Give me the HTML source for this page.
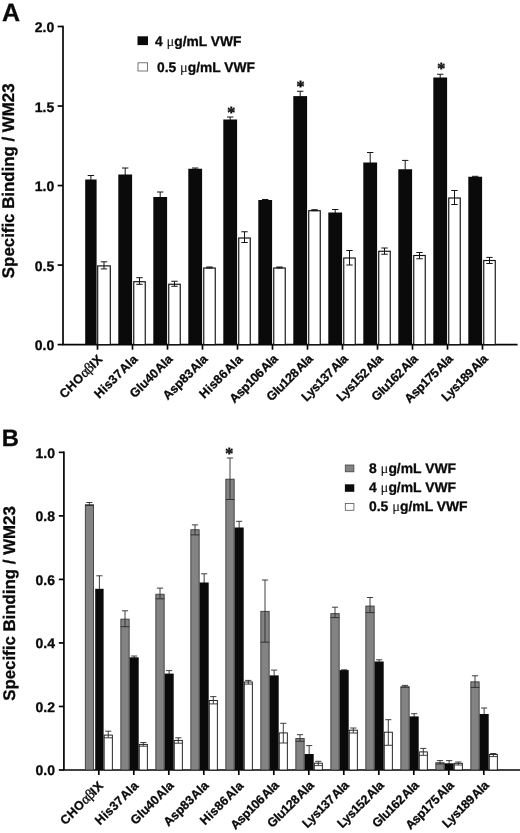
<!DOCTYPE html>
<html><head><meta charset="utf-8"><title>Figure</title>
<style>
html,body{margin:0;padding:0;background:#fff;}
svg{display:block;will-change:transform;filter:blur(0.4px);}
text{font-family:"Liberation Sans",sans-serif;font-weight:bold;fill:#0a0a0a;text-rendering:geometricPrecision;stroke:#0a0a0a;stroke-width:0.3;}
.sym{font-family:"Liberation Serif",serif;font-weight:normal;stroke:none;}
.ax{stroke:#050505;stroke-width:1.7;fill:none;}
.eb{stroke:#151515;stroke-width:1.0;fill:none;}
.ebb{stroke:#2a2a2a;stroke-width:0.9;fill:none;}
.kb{fill:#0a0a0a;}
.wb{fill:#fff;stroke:#111;stroke-width:1.15;}
.wbb{fill:#fff;stroke:#1c1c1c;stroke-width:0.95;}
.gb{fill:#838383;stroke:#3a3a3a;stroke-width:0.9;}
.ast{font-family:"Liberation Serif",serif;font-weight:bold;font-size:17px;stroke:#0a0a0a;stroke-width:0.3;}
.tk{font-size:14px;}
.xl{font-size:12.5px;}
.lg{font-size:13.8px;}.lgb{font-size:13.9px;}
</style></head><body>
<svg width="520" height="833" viewBox="0 0 520 833">
<rect width="520" height="833" fill="#fff"/>

<!-- Panel A -->
<text x="2.0" y="20.5" font-size="25">A</text>
<path class="ax" d="M63.0 25.75V344.60H517.6"/>
<path class="ax" d="M57.6 344.60H63.0"/>
<text class="tk" text-anchor="end" x="54.2" y="350.20">0.0</text>
<path class="ax" d="M57.6 265.08H63.0"/>
<text class="tk" text-anchor="end" x="54.2" y="270.68">0.5</text>
<path class="ax" d="M57.6 185.55H63.0"/>
<text class="tk" text-anchor="end" x="54.2" y="191.15">1.0</text>
<path class="ax" d="M57.6 106.03H63.0"/>
<text class="tk" text-anchor="end" x="54.2" y="111.62">1.5</text>
<path class="ax" d="M57.6 26.50H63.0"/>
<text class="tk" text-anchor="end" x="54.2" y="32.10">2.0</text>
<text font-size="16.85" text-anchor="middle" transform="translate(13.9 180.8) rotate(-90)">Specific Binding / WM23</text>
<path class="ax" d="M97.50 344.60V349.70"/>
<path class="eb" d="M90.90 175.50V180.50M87.70 175.50H94.10"/>
<rect class="kb" x="85.20" y="179.50" width="11.40" height="165.10"/>
<rect class="wb" x="97.70" y="265.90" width="12.60" height="78.70"/>
<path class="eb" d="M104.00 261.80V268.90M100.80 261.80H107.20M100.80 268.90H107.20"/>
<text class="xl" text-anchor="end" letter-spacing="0.45" transform="translate(103.50 359.80) rotate(-45)">CHO<tspan class="sym" style="font-size:14.2px;letter-spacing:-0.6px;stroke:#0a0a0a;stroke-width:0.3px">αβ</tspan>IX</text>
<path class="ax" d="M132.50 344.60V349.70"/>
<path class="eb" d="M125.20 168.00V175.50M122.00 168.00H128.40"/>
<rect class="kb" x="118.30" y="174.50" width="13.80" height="170.10"/>
<rect class="wb" x="133.75" y="281.70" width="11.50" height="62.90"/>
<path class="eb" d="M139.50 277.70V284.30M136.30 277.70H142.70M136.30 284.30H142.70"/>
<text class="xl" text-anchor="end" letter-spacing="0.25" transform="translate(138.50 359.80) rotate(-45)">His37<tspan dx="0.6">Ala</tspan></text>
<path class="ax" d="M167.50 344.60V349.70"/>
<path class="eb" d="M160.20 192.00V198.00M157.00 192.00H163.40"/>
<rect class="kb" x="153.30" y="197.00" width="13.80" height="147.60"/>
<rect class="wb" x="168.75" y="284.25" width="11.50" height="60.35"/>
<path class="eb" d="M174.50 281.25V286.25M171.30 281.25H177.70M171.30 286.25H177.70"/>
<text class="xl" text-anchor="end" transform="translate(173.50 359.80) rotate(-45)">Glu40<tspan dx="0.6">Ala</tspan></text>
<path class="ax" d="M202.50 344.60V349.70"/>
<path class="eb" d="M195.20 168.00V169.75M192.00 168.00H198.40"/>
<rect class="kb" x="188.30" y="168.75" width="13.80" height="175.85"/>
<rect class="wb" x="203.75" y="268.00" width="11.50" height="76.60"/>
<path class="eb" d="M209.50 267.00V268.00M206.30 267.00H212.70M206.30 268.00H212.70"/>
<text class="xl" text-anchor="end" transform="translate(208.50 359.80) rotate(-45)">Asp83<tspan dx="0.6">Ala</tspan></text>
<path class="ax" d="M237.50 344.60V349.70"/>
<path class="eb" d="M230.20 117.00V120.50M227.00 117.00H233.40"/>
<rect class="kb" x="223.30" y="119.50" width="13.80" height="225.10"/>
<rect class="wb" x="238.75" y="238.00" width="11.50" height="106.60"/>
<path class="eb" d="M244.50 231.75V242.50M241.30 231.75H247.70M241.30 242.50H247.70"/>
<text class="xl" text-anchor="end" letter-spacing="0.25" transform="translate(243.50 359.80) rotate(-45)">His86<tspan dx="0.6">Ala</tspan></text>
<path class="ax" d="M272.50 344.60V349.70"/>
<path class="eb" d="M265.20 199.50V201.00M262.00 199.50H268.40"/>
<rect class="kb" x="258.30" y="200.00" width="13.80" height="144.60"/>
<rect class="wb" x="273.75" y="268.00" width="11.50" height="76.60"/>
<path class="eb" d="M279.50 267.00V268.00M276.30 267.00H282.70M276.30 268.00H282.70"/>
<text class="xl" text-anchor="end" letter-spacing="-0.35" transform="translate(278.50 359.80) rotate(-45)">Asp106<tspan dx="1.3">Ala</tspan></text>
<path class="ax" d="M307.50 344.60V349.70"/>
<path class="eb" d="M300.20 91.25V97.10M297.00 91.25H303.40"/>
<rect class="kb" x="293.30" y="96.10" width="13.80" height="248.50"/>
<rect class="wb" x="308.75" y="210.70" width="11.50" height="133.90"/>
<path class="eb" d="M314.50 209.70V210.70M311.30 209.70H317.70M311.30 210.70H317.70"/>
<text class="xl" text-anchor="end" letter-spacing="-0.35" transform="translate(313.50 359.80) rotate(-45)">Glu128<tspan dx="1.3">Ala</tspan></text>
<path class="ax" d="M342.50 344.60V349.70"/>
<path class="eb" d="M335.20 209.50V213.50M332.00 209.50H338.40"/>
<rect class="kb" x="328.30" y="212.50" width="13.80" height="132.10"/>
<rect class="wb" x="343.75" y="258.00" width="11.50" height="86.60"/>
<path class="eb" d="M349.50 250.50V265.00M346.30 250.50H352.70M346.30 265.00H352.70"/>
<text class="xl" text-anchor="end" letter-spacing="-0.35" transform="translate(348.50 359.80) rotate(-45)">Lys137<tspan dx="1.3">Ala</tspan></text>
<path class="ax" d="M377.50 344.60V349.70"/>
<path class="eb" d="M370.20 152.50V163.50M367.00 152.50H373.40"/>
<rect class="kb" x="363.30" y="162.50" width="13.80" height="182.10"/>
<rect class="wb" x="378.75" y="251.25" width="11.50" height="93.35"/>
<path class="eb" d="M384.50 248.00V254.25M381.30 248.00H387.70M381.30 254.25H387.70"/>
<text class="xl" text-anchor="end" letter-spacing="-0.35" transform="translate(383.50 359.80) rotate(-45)">Lys152<tspan dx="1.3">Ala</tspan></text>
<path class="ax" d="M412.50 344.60V349.70"/>
<path class="eb" d="M405.20 160.40V170.25M402.00 160.40H408.40"/>
<rect class="kb" x="398.30" y="169.25" width="13.80" height="175.35"/>
<rect class="wb" x="413.75" y="255.50" width="11.50" height="89.10"/>
<path class="eb" d="M419.50 252.50V258.75M416.30 252.50H422.70M416.30 258.75H422.70"/>
<text class="xl" text-anchor="end" letter-spacing="-0.35" transform="translate(418.50 359.80) rotate(-45)">Glu162<tspan dx="1.3">Ala</tspan></text>
<path class="ax" d="M447.50 344.60V349.70"/>
<path class="eb" d="M440.20 74.25V78.50M437.00 74.25H443.40"/>
<rect class="kb" x="433.30" y="77.50" width="13.80" height="267.10"/>
<rect class="wb" x="448.75" y="198.00" width="11.50" height="146.60"/>
<path class="eb" d="M454.50 190.50V204.50M451.30 190.50H457.70M451.30 204.50H457.70"/>
<text class="xl" text-anchor="end" letter-spacing="-0.35" transform="translate(453.50 359.80) rotate(-45)">Asp175<tspan dx="1.3">Ala</tspan></text>
<path class="ax" d="M482.50 344.60V349.70"/>
<path class="eb" d="M475.20 176.30V177.75M472.00 176.30H478.40"/>
<rect class="kb" x="468.30" y="176.75" width="13.80" height="167.85"/>
<rect class="wb" x="483.75" y="260.50" width="11.50" height="84.10"/>
<path class="eb" d="M489.50 257.40V263.50M486.30 257.40H492.70M486.30 263.50H492.70"/>
<text class="xl" text-anchor="end" letter-spacing="-0.35" transform="translate(488.50 359.80) rotate(-45)">Lys189<tspan dx="1.3">Ala</tspan></text>
<text class="ast" x="231.25" y="118.00" text-anchor="middle">*</text>
<text class="ast" x="300.60" y="92.35" text-anchor="middle">*</text>
<text class="ast" x="441.25" y="74.20" text-anchor="middle">*</text>
<rect x="137.5" y="36.3" width="10.5" height="8.8" fill="#0a0a0a"/>
<text class="lg" x="155" y="45.6">4 <tspan class="sym" font-size="14.5">μ</tspan>g/mL VWF</text>
<rect x="138" y="62.8" width="9.6" height="8.2" fill="#fff" stroke="#555" stroke-width="0.8"/>
<text class="lg" x="157" y="71.6">0.5 <tspan class="sym" font-size="14.5">μ</tspan>g/mL VWF</text>
<!-- Panel B -->
<text x="1.7" y="445.9" font-size="23.8">B</text>
<path class="ax" d="M63.9 451.60V770.00H520"/>
<path class="ax" d="M58.8 770.00H63.9"/>
<text class="tk" text-anchor="end" x="55.0" y="775.20">0.0</text>
<path class="ax" d="M58.8 706.47H63.9"/>
<text class="tk" text-anchor="end" x="55.0" y="711.67">0.2</text>
<path class="ax" d="M58.8 642.94H63.9"/>
<text class="tk" text-anchor="end" x="55.0" y="648.14">0.4</text>
<path class="ax" d="M58.8 579.41H63.9"/>
<text class="tk" text-anchor="end" x="55.0" y="584.61">0.6</text>
<path class="ax" d="M58.8 515.88H63.9"/>
<text class="tk" text-anchor="end" x="55.0" y="521.08">0.8</text>
<path class="ax" d="M58.8 452.35H63.9"/>
<text class="tk" text-anchor="end" x="55.0" y="457.55">1.0</text>
<text font-size="16.85" text-anchor="middle" transform="translate(14.5 603.5) rotate(-90)">Specific Binding / WM23</text>
<path class="ax" d="M98.80 770.00V775.00"/>
<rect class="gb" x="85.35" y="504.75" width="8.10" height="265.25"/>
<path class="ebb" d="M89.40 502.50V505.50M86.30 502.50H92.50M85.15 505.50H93.65"/>
<path class="ebb" d="M99.40 575.80V589.80M96.30 575.80H102.50"/>
<rect class="kb" x="95.20" y="588.80" width="8.40" height="181.20"/>
<rect class="wbb" x="104.15" y="735.10" width="8.20" height="34.90"/>
<path class="ebb" d="M108.25 731.20V737.80M105.15 731.20H111.35M103.85 737.80H112.65"/>
<text class="xl" text-anchor="end" letter-spacing="0.45" transform="translate(104.30 786.40) rotate(-45)">CHO<tspan class="sym" style="font-size:14.2px;letter-spacing:-0.6px;stroke:#0a0a0a;stroke-width:0.3px">αβ</tspan>IX</text>
<path class="ax" d="M133.80 770.00V775.00"/>
<rect class="gb" x="120.85" y="619.15" width="8.30" height="150.85"/>
<path class="ebb" d="M125.00 610.80V626.70M121.90 610.80H128.10M120.65 626.70H129.35"/>
<path class="ebb" d="M134.15 656.00V658.30M131.05 656.00H137.25"/>
<rect class="kb" x="129.60" y="657.30" width="9.10" height="112.70"/>
<rect class="wbb" x="139.25" y="744.40" width="8.10" height="25.60"/>
<path class="ebb" d="M143.30 742.50V746.20M140.20 742.50H146.40M138.95 746.20H147.65"/>
<text class="xl" text-anchor="end" letter-spacing="0.25" transform="translate(139.30 786.40) rotate(-45)">His37<tspan dx="0.6">Ala</tspan></text>
<path class="ax" d="M168.80 770.00V775.00"/>
<rect class="gb" x="155.85" y="594.25" width="8.30" height="175.75"/>
<path class="ebb" d="M160.00 588.10V598.80M156.90 588.10H163.10M155.65 598.80H164.35"/>
<path class="ebb" d="M169.15 670.60V674.60M166.05 670.60H172.25"/>
<rect class="kb" x="164.60" y="673.60" width="9.10" height="96.40"/>
<rect class="wbb" x="174.25" y="740.40" width="8.10" height="29.60"/>
<path class="ebb" d="M178.30 737.80V743.20M175.20 737.80H181.40M173.95 743.20H182.65"/>
<text class="xl" text-anchor="end" transform="translate(174.30 786.40) rotate(-45)">Glu40<tspan dx="0.6">Ala</tspan></text>
<path class="ax" d="M203.80 770.00V775.00"/>
<rect class="gb" x="190.85" y="529.75" width="8.30" height="240.25"/>
<path class="ebb" d="M195.00 524.90V534.90M191.90 524.90H198.10M190.65 534.90H199.35"/>
<path class="ebb" d="M204.15 573.80V583.50M201.05 573.80H207.25"/>
<rect class="kb" x="199.60" y="582.50" width="9.10" height="187.50"/>
<rect class="wbb" x="209.25" y="700.50" width="8.10" height="69.50"/>
<path class="ebb" d="M213.30 696.60V703.90M210.20 696.60H216.40M208.95 703.90H217.65"/>
<text class="xl" text-anchor="end" transform="translate(209.30 786.40) rotate(-45)">Asp83<tspan dx="0.6">Ala</tspan></text>
<path class="ax" d="M238.80 770.00V775.00"/>
<rect class="gb" x="225.85" y="479.20" width="8.30" height="290.80"/>
<path class="ebb" d="M230.00 458.00V499.50M226.90 458.00H233.10M225.65 499.50H234.35"/>
<path class="ebb" d="M239.15 521.30V528.50M236.05 521.30H242.25"/>
<rect class="kb" x="234.60" y="527.50" width="9.10" height="242.50"/>
<rect class="wbb" x="244.25" y="682.00" width="8.10" height="88.00"/>
<path class="ebb" d="M248.30 680.40V684.10M245.20 680.40H251.40M243.95 684.10H252.65"/>
<text class="xl" text-anchor="end" letter-spacing="0.25" transform="translate(244.30 786.40) rotate(-45)">His86<tspan dx="0.6">Ala</tspan></text>
<path class="ax" d="M273.80 770.00V775.00"/>
<rect class="gb" x="260.85" y="611.35" width="8.30" height="158.65"/>
<path class="ebb" d="M265.00 580.00V642.20M261.90 580.00H268.10M260.65 642.20H269.35"/>
<path class="ebb" d="M274.15 670.10V676.40M271.05 670.10H277.25"/>
<rect class="kb" x="269.60" y="675.40" width="9.10" height="94.60"/>
<rect class="wbb" x="279.25" y="732.90" width="8.10" height="37.10"/>
<path class="ebb" d="M283.30 723.30V743.00M280.20 723.30H286.40M278.95 743.00H287.65"/>
<text class="xl" text-anchor="end" letter-spacing="-0.35" transform="translate(279.30 786.40) rotate(-45)">Asp106<tspan dx="1.3">Ala</tspan></text>
<path class="ax" d="M308.80 770.00V775.00"/>
<rect class="gb" x="295.85" y="738.45" width="8.30" height="31.55"/>
<path class="ebb" d="M300.00 734.70V741.30M296.90 734.70H303.10M295.65 741.30H304.35"/>
<path class="ebb" d="M309.15 745.60V755.00M306.05 745.60H312.25"/>
<rect class="kb" x="304.60" y="754.00" width="9.10" height="16.00"/>
<rect class="wbb" x="314.25" y="763.20" width="8.10" height="6.80"/>
<path class="ebb" d="M318.30 761.30V765.60M315.20 761.30H321.40M313.95 765.60H322.65"/>
<text class="xl" text-anchor="end" letter-spacing="-0.35" transform="translate(314.30 786.40) rotate(-45)">Glu128<tspan dx="1.3">Ala</tspan></text>
<path class="ax" d="M343.80 770.00V775.00"/>
<rect class="gb" x="330.85" y="613.65" width="8.30" height="156.35"/>
<path class="ebb" d="M335.00 607.20V617.60M331.90 607.20H338.10M330.65 617.60H339.35"/>
<path class="ebb" d="M344.15 669.80V671.10M341.05 669.80H347.25"/>
<rect class="kb" x="339.60" y="670.10" width="9.10" height="99.90"/>
<rect class="wbb" x="349.25" y="730.20" width="8.10" height="39.80"/>
<path class="ebb" d="M353.30 728.00V733.00M350.20 728.00H356.40M348.95 733.00H357.65"/>
<text class="xl" text-anchor="end" letter-spacing="-0.35" transform="translate(349.30 786.40) rotate(-45)">Lys137<tspan dx="1.3">Ala</tspan></text>
<path class="ax" d="M378.80 770.00V775.00"/>
<rect class="gb" x="365.85" y="606.05" width="8.30" height="163.95"/>
<path class="ebb" d="M370.00 597.50V612.60M366.90 597.50H373.10M365.65 612.60H374.35"/>
<path class="ebb" d="M379.15 659.80V662.50M376.05 659.80H382.25"/>
<rect class="kb" x="374.60" y="661.50" width="9.10" height="108.50"/>
<rect class="wbb" x="384.25" y="732.20" width="8.10" height="37.80"/>
<path class="ebb" d="M388.30 719.70V745.30M385.20 719.70H391.40M383.95 745.30H392.65"/>
<text class="xl" text-anchor="end" letter-spacing="-0.35" transform="translate(384.30 786.40) rotate(-45)">Lys152<tspan dx="1.3">Ala</tspan></text>
<path class="ax" d="M413.80 770.00V775.00"/>
<rect class="gb" x="400.85" y="686.85" width="8.30" height="83.15"/>
<path class="ebb" d="M405.00 685.40V687.20M401.90 685.40H408.10M400.65 687.20H409.35"/>
<path class="ebb" d="M414.15 713.70V717.40M411.05 713.70H417.25"/>
<rect class="kb" x="409.60" y="716.40" width="9.10" height="53.60"/>
<rect class="wbb" x="419.25" y="751.90" width="8.10" height="18.10"/>
<path class="ebb" d="M423.30 748.40V755.30M420.20 748.40H426.40M418.95 755.30H427.65"/>
<text class="xl" text-anchor="end" letter-spacing="-0.35" transform="translate(419.30 786.40) rotate(-45)">Glu162<tspan dx="1.3">Ala</tspan></text>
<path class="ax" d="M448.80 770.00V775.00"/>
<rect class="gb" x="435.85" y="762.75" width="8.30" height="7.25"/>
<path class="ebb" d="M440.00 760.60V764.00M436.90 760.60H443.10M435.65 764.00H444.35"/>
<path class="ebb" d="M449.15 760.60V764.30M446.05 760.60H452.25"/>
<rect class="kb" x="444.60" y="763.30" width="9.10" height="6.70"/>
<rect class="wbb" x="454.25" y="763.30" width="8.10" height="6.70"/>
<path class="ebb" d="M458.30 762.00V765.00M455.20 762.00H461.40M453.95 765.00H462.65"/>
<text class="xl" text-anchor="end" letter-spacing="-0.35" transform="translate(454.30 786.40) rotate(-45)">Asp175<tspan dx="1.3">Ala</tspan></text>
<path class="ax" d="M483.80 770.00V775.00"/>
<rect class="gb" x="470.85" y="681.85" width="8.30" height="88.15"/>
<path class="ebb" d="M475.00 675.80V687.40M471.90 675.80H478.10M470.65 687.40H479.35"/>
<path class="ebb" d="M484.15 708.00V715.00M481.05 708.00H487.25"/>
<rect class="kb" x="479.60" y="714.00" width="9.10" height="56.00"/>
<rect class="wbb" x="489.25" y="754.50" width="8.10" height="15.50"/>
<path class="ebb" d="M493.30 753.50V756.60M490.20 753.50H496.40M488.95 756.60H497.65"/>
<text class="xl" text-anchor="end" letter-spacing="-0.35" transform="translate(489.30 786.40) rotate(-45)">Lys189<tspan dx="1.3">Ala</tspan></text>
<text class="ast" x="229.25" y="458.70" text-anchor="middle">*</text>
<rect x="345.3" y="465" width="8.6" height="6.8" fill="#838383" stroke="#444" stroke-width="0.8"/>
<text class="lgb" x="369" y="472.6">8 <tspan class="sym" font-size="14.5">μ</tspan>g/mL VWF</text>
<rect x="344.9" y="484.3" width="9.4" height="7.5" fill="#0a0a0a"/>
<text class="lgb" x="369" y="491.8">4 <tspan class="sym" font-size="14.5">μ</tspan>g/mL VWF</text>
<rect x="345.3" y="503.5" width="8.6" height="6.8" fill="#fff" stroke="#555" stroke-width="0.8"/>
<text class="lgb" x="369" y="510.8">0.5 <tspan class="sym" font-size="14.5">μ</tspan>g/mL VWF</text>
</svg></body></html>
